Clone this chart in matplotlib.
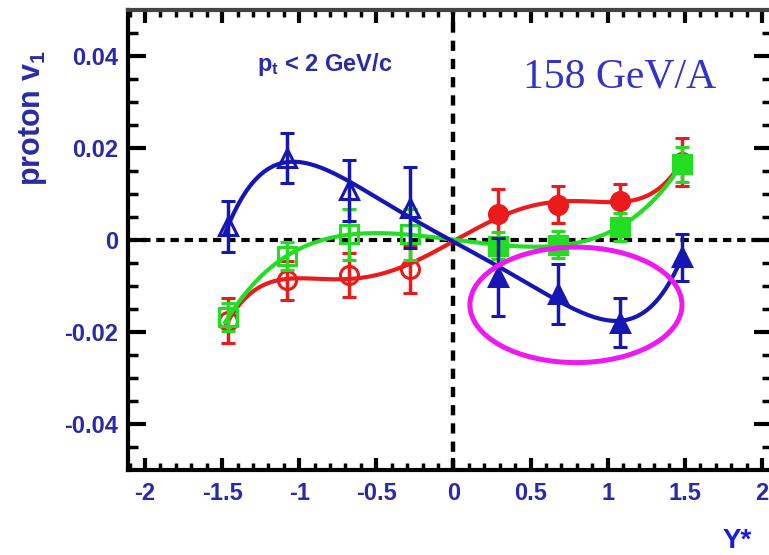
import numpy as np
import matplotlib.pyplot as plt
from matplotlib.patches import Ellipse

plt.rcParams['font.family'] = ['Liberation Sans', 'DejaVu Sans']
plt.rcParams['font.weight'] = 'bold'
plt.rcParams['mathtext.fontset'] = 'custom'
plt.rcParams['mathtext.rm'] = 'Liberation Sans:bold'
plt.rcParams['mathtext.it'] = 'Liberation Sans:bold'
plt.rcParams['mathtext.bf'] = 'Liberation Sans:bold'
plt.rcParams['axes.unicode_minus'] = False

# rapidity bins (backward / forward)
y_neg = [-1.46, -1.08, -0.68, -0.28]
y_pos = [0.29, 0.68, 1.08, 1.48]

# blue triangles
blue_neg = [0.003, 0.0178, 0.0108, 0.007]
blue_neg_err = [0.0055, 0.0054, 0.0066, 0.0088]
blue_pos = [-0.008, -0.0118, -0.018, -0.0038]
blue_pos_err = [0.0085, 0.0065, 0.0053, 0.0051]

# red circles
red_neg = [-0.0175, -0.0088, -0.0076, -0.0063]
red_neg_err = [0.0048, 0.0042, 0.0048, 0.0052]
red_pos = [0.0056, 0.0077, 0.0085, 0.017]
red_pos_err = [0.0055, 0.0040, 0.0037, 0.0052]

# green squares
green_neg = [-0.0168, -0.0035, 0.0012, 0.0012]
green_neg_err = [0.003, 0.003, 0.0055, 0.0055]
green_pos = [-0.0012, -0.001, 0.0028, 0.0165]
green_pos_err = [0.003, 0.003, 0.003, 0.0038]

xtick_vals = [-2, -1.5, -1, -0.5, 0, 0.5, 1, 1.5, 2]
xtick_labels = ['-2', '-1.5', '-1', '-0.5', '0', '0.5', '1', '1.5', '2']
ytick_vals = [-0.04, -0.02, 0, 0.02, 0.04]
ytick_labels = ['-0.04', '-0.02', '0', '0.02', '0.04']

BLUE = '#1616b4'
RED = '#ec1a1a'
GREEN = '#22dd22'
LABEL = '#2a2aa8'

fig = plt.figure(figsize=(7.69, 5.55), dpi=100)
ax = fig.add_axes([128 / 769, 85 / 555, 644 / 769, 460 / 555])
ax.set_xlim(-2.11, 2.065)
ax.set_ylim(-0.05, 0.05)

# zero lines
ax.axhline(0, color='black', lw=3, dashes=(2.0, 1.4), zorder=1)
ax.axvline(0, color='black', lw=3.2, dashes=(2.3, 1.8), zorder=1)


def draw_series(neg, neg_err, pos, pos_err, color, marker, z):
    # smooth fit through the points, anchored at the origin
    xs = y_neg + [0.0] + y_pos
    ys = neg + [0.0] + pos
    c = np.polyfit(xs, ys, 5)
    xx = np.linspace(min(xs) - 0.02, max(xs) - 0.03, 300)
    ax.plot(xx, np.polyval(c, xx), color=color, lw=3, zorder=z)
    ax.errorbar(y_neg, neg, yerr=neg_err, fmt=marker, ms=13, mfc='none', mec=color,
                mew=2.2, ecolor=color, elinewidth=2.5, capsize=5, capthick=3, zorder=z + 0.5)
    ax.errorbar(y_pos, pos, yerr=pos_err, fmt=marker, ms=13, mfc=color, mec=color,
                mew=2.2, ecolor=color, elinewidth=2.5, capsize=5, capthick=3, zorder=z + 0.5)


draw_series(red_neg, red_neg_err, red_pos, red_pos_err, RED, 'o', 3)
draw_series(green_neg, green_neg_err, green_pos, green_pos_err, GREEN, 's', 4)
draw_series(blue_neg, blue_neg_err, blue_pos, blue_pos_err, BLUE, '^', 5)

ax.add_patch(Ellipse((0.794, -0.0141), 1.375, 0.0251, fill=False,
                     ec='#f018f0', lw=3.6, zorder=6))

# ticks
ax.set_xticks(xtick_vals)
ax.set_xticklabels(xtick_labels)
ax.set_yticks(ytick_vals)
ax.set_yticklabels(ytick_labels)
ax.set_xticks(np.arange(-2.1, 2.06, 0.1), minor=True)
ax.set_yticks(np.arange(-0.045, 0.05, 0.005), minor=True)
ax.tick_params(which='both', direction='in', top=True, right=True,
               labelsize=17, labelcolor=LABEL, color='black')
ax.tick_params(axis='x', which='major', length=9, width=3, pad=9)
ax.tick_params(axis='x', which='minor', length=5, width=2.5)
ax.tick_params(axis='y', which='major', length=13, width=3, pad=7)
ax.tick_params(axis='y', which='minor', length=7, width=2.5)
for s in ax.spines.values():
    s.set_linewidth(3)
ax.spines['top'].set_color('#444444')

# labels
fig.text(33 / 769, 1 - 118 / 555, r'proton v$_1$', rotation=90, ha='center', va='center',
         fontsize=22, color=LABEL)
fig.text(737 / 769, 1 - 541 / 555, 'Y*', ha='center', va='center', fontsize=20, color='#1a1ae0')
fig.text(257 / 769, 1 - 71 / 555, r'p$_t$ < 2 GeV/c', ha='left', va='baseline',
         fontsize=17, color=LABEL)
fig.text(523 / 769, 1 - 87 / 555, '158 GeV/A', ha='left', va='baseline',
         fontsize=30, color='#3333cc', family='Liberation Serif', weight='normal')

fig.savefig('out.png', dpi=100)
